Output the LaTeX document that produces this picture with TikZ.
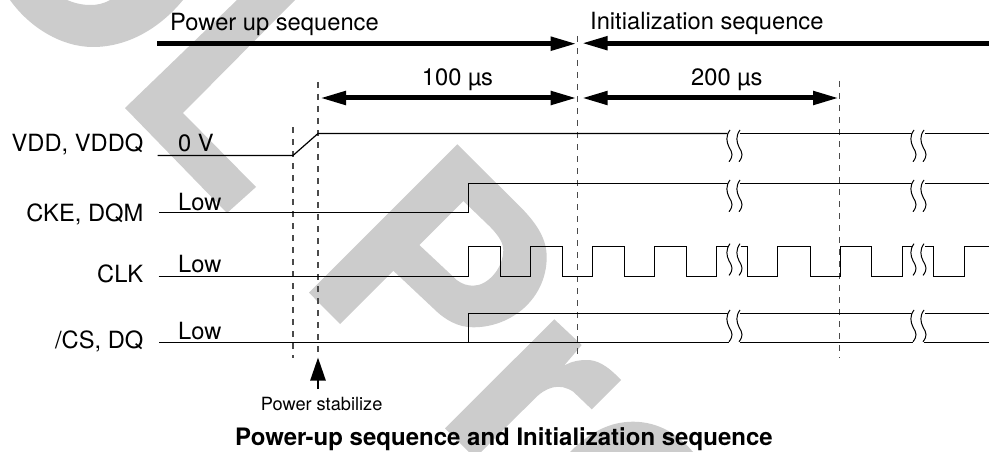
\documentclass[tikz,border=0pt]{standalone}
\usepackage{fontspec}
\usetikzlibrary{arrows.meta}
\setmainfont{TeX Gyre Heros}
\definecolor{wm}{HTML}{CCCCCC}
\definecolor{dashc}{HTML}{4A4A4A}
\tikzset{
  wmark/.style={fill=wm,draw=none},
  big/.style={inner sep=0pt,font=\fontsize{23.7}{26}\selectfont},
  smalltxt/.style={inner sep=0pt,font=\fontsize{18.2}{20}\selectfont},
  titletxt/.style={inner sep=0pt,font=\bfseries\fontsize{24}{26}\selectfont},
  guide/.style={draw=dashc,line width=1.2pt,dash pattern=on 6pt off 6pt},
  sig/.style={draw=black,line width=1.2pt,line join=miter},
  brk/.style={draw=black,line width=1pt},
  span/.style={draw=black,line width=5pt,{Triangle[length=26pt,width=13pt]}-{Triangle[length=26pt,width=13pt]}},
  spanr/.style={draw=black,line width=5pt,-{Triangle[length=26pt,width=13pt]}},
  spanl/.style={draw=black,line width=5pt,{Triangle[length=26pt,width=13pt]}-},
  upar/.style={draw=black,line width=2.5pt,-{Triangle[length=23pt,width=15pt]}}
}
\begin{document}
\begin{tikzpicture}[x=1pt,y=-1pt]
\useasboundingbox (0,0) rectangle (989,452);
\fill[white] (0,0) rectangle (989,452);
% watermark
\fill[wmark] (10,0) .. controls (30,28) and (62,47) .. (93,47) .. controls (128,47) and (160,28) .. (183,0) -- (110,0) .. controls (103,4) and (97,5) .. (90,5) .. controls (82,5) and (74,3) .. (67,0) -- cycle;
\fill[wmark] (237,0) -- (125,108) -- (227,213) -- (256,187) -- (183,113) -- (295,0) -- cycle;
\fill[wmark,even odd rule] (457.3,144.3) -- (521.7,208.3) .. controls (538,225) and (546.7,240) .. (546.7,257) .. controls (546.7,298) and (512,327.3) .. (473.3,327.3) .. controls (458,327.3) and (445,320) .. (433.3,308.3) -- (393.3,270.7) -- (340,324) -- (309,292.7) -- cycle
 (419.3,245) -- (463.3,201) -- (490,226.7) .. controls (499,236) and (503.3,243) .. (503.3,250) .. controls (503.3,268) and (488,285.7) .. (473.3,285.7) .. controls (467,285.7) and (462,284) .. (456.7,280) -- cycle;
\fill[wmark] (554.3,319.3) -- (581.7,345) -- (564,365.7) .. controls (572,361) and (580,360) .. (587,360) .. controls (596,360) and (606,364) .. (621,380) -- (591.7,409.3) -- (573.3,391.7) .. controls (566,387) and (560,386) .. (553.3,387.3) .. controls (546,389) and (540,393) .. (533.3,400) -- (481,452) -- (469,452) -- (445,428.3) -- cycle;
\fill[wmark] (570,452) .. controls (590,432) and (610,421.7) .. (633,421.7) .. controls (658,421.7) and (678,434) .. (693,452) -- cycle;
% coordinates
\coordinate (g1t) at (293,127); \coordinate (g1b) at (293,358);
\coordinate (g2t) at (318,82);  \coordinate (g2b) at (318,357);
\coordinate (g3t) at (577.7,36); \coordinate (g3b) at (577.7,358);
\coordinate (g4t) at (839.7,81); \coordinate (g4b) at (839.7,358);
% guides
\draw[guide] (g1t) -- (g1b);
\draw[guide] (g2t) -- (g2b);
\draw[guide] (g3t) -- (g3b);
\draw[guide] (g4t) -- (g4b);
% spans
\coordinate (s1a) at (157,43.7); \coordinate (s1b) at (576.7,43.7);
\coordinate (s2a) at (581.7,43.2); \coordinate (s2b) at (989,43.2);
\coordinate (s3a) at (320,98); \coordinate (s3b) at (576.7,98);
\coordinate (s4a) at (581.7,98); \coordinate (s4b) at (839,98);
\draw[spanr] (s1a) -- (s1b);
\draw[spanl] (s2a) -- (s2b);
\draw[span] (s3a) -- (s3b);
\draw[span] (s4a) -- (s4b);
% VDD
\draw[sig] (157.5,155.5) -- (293,155.5) -- (318,133.5) -- (727.5,133.5);
\draw[sig] (740,133.5) -- (911.7,133.5);
\draw[sig] (925,133.5) -- (989,133.5);
% CKE
\draw[sig] (159,212.5) -- (468.5,212.5) -- (468.5,183.5) -- (727.5,183.5);
\draw[sig] (740,183.5) -- (911.7,183.5);
\draw[sig] (925,183.5) -- (989,183.5);
% CLK
\draw[sig] (158.5,276.5) -- (468.5,276.5) |- (500.5,246.5) |- (530.5,276.5) |- (562.5,246.5) |- (592.5,276.5) |- (624.5,246.5) |- (654.5,276.5) |- (686.5,246.5) |- (716.5,276.5) |- (729,246.5);
\draw[sig] (740.7,246.5) -- (747.5,246.5) |- (777.5,276.5) |- (810.5,246.5) |- (840.5,276.5) |- (871.5,246.5) |- (902.5,276.5) |- (913,246.5);
\draw[sig] (925,246.5) -- (933.5,246.5) |- (964.5,276.5) |- (989,246.5);
% CS
\draw[sig] (159,342.5) -- (729,342.5);
\draw[sig] (739.5,342.5) -- (913,342.5);
\draw[sig] (923.5,342.5) -- (989,342.5);
\draw[sig] (468.5,342.5) -- (468.5,313.5) -- (727.5,313.5);
\draw[sig] (740,313.5) -- (911.7,313.5);
\draw[sig] (925,313.5) -- (989,313.5);
% squiggles
\foreach \xo in {0,184}{
 \foreach \yo in {0,50,113.7,180}{
  \begin{scope}[shift={(\xo,\yo)}]
  \fill[white] (729.5,130) .. controls (724,140) and (726,143) .. (729,149) .. controls (733,155) and (733,157) .. (729,161.7) -- (739,161.7) .. controls (743,157) and (743,155) .. (739.5,149) .. controls (736,143) and (735,137) .. (740,130) -- cycle;
  \draw[brk] (730,130) .. controls (725.5,136) and (726.5,142) .. (729,147) .. controls (732.5,153) and (733.5,156) .. (729,161.7);
  \draw[brk] (740,130) .. controls (735.5,136) and (736.5,142) .. (739,147) .. controls (742.5,153) and (743.5,156) .. (739,161.7);
  \end{scope}
 }
}
% labels
\node[big,anchor=base west] (tpu) at (170,31) {Power up sequence};
\node[big,anchor=base west] (tin) at (590,30) {Initialization sequence};
\node[big,anchor=base west] (t100) at (421.7,85) {100 µs};
\node[big,anchor=base west] (t200) at (691,85) {200 µs};
\node[big,anchor=base east] (lvdd) at (143.5,151.7) {VDD, VDDQ};
\node[big,anchor=base east] (lcke) at (143.5,221.7) {CKE, DQM};
\node[big,anchor=base east] (lclk) at (143.5,282.7) {CLK};
\node[big,anchor=base east] (lcs) at (143.5,348.3) {/CS, DQ};
\node[big,anchor=base west] (v0) at (178,151.7) {0 V};
\node[big,anchor=base west] (lo1) at (178,210) {Low};
\node[big,anchor=base west] (lo2) at (178,272.7) {Low};
\node[big,anchor=base west] (lo3) at (178,339) {Low};
\node[smalltxt,anchor=base west] (ps) at (260.7,410) {Power stabilize};
\node[titletxt,anchor=base west] (ttl) at (235,445) {Power-up sequence and Initialization sequence};
\coordinate (uptip) at (318,357.5);
\coordinate (upbot) at (318,389);
\draw[upar] (upbot) -- (uptip);
\end{tikzpicture}
\end{document}
